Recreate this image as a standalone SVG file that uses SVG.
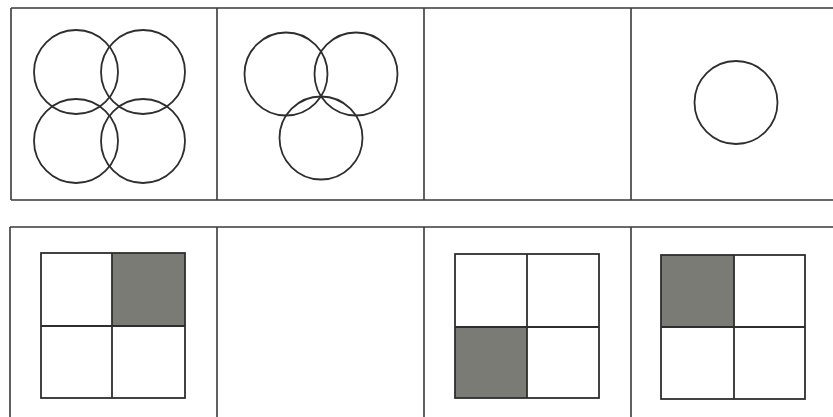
<svg xmlns="http://www.w3.org/2000/svg" width="833" height="417" viewBox="0 0 833 417">
<style>
.frame{fill:none;stroke:#3a3a3a;stroke-width:1.6}
.c{fill:none;stroke:#2e2e2e;stroke-width:1.8}
.g{fill:none;stroke:#2e2e2e;stroke-width:1.8}
.sh{fill:#7b7b75}
</style>
<rect width="833" height="417" fill="#ffffff"/>
<g id="frames">
<path class="frame" d="M11,8 H833 M11,200 H833 M11,8 V200 M217,8 V200 M424,8 V200 M631,8 V200"/>
<path class="frame" d="M10,227 H833 M10,227 V417 M217,227 V417 M424,227 V417 M631,227 V417"/>
</g>
<g id="p1">
<circle class="c" cx="76" cy="72" r="42"/>
<circle class="c" cx="143" cy="72" r="42"/>
<circle class="c" cx="76" cy="141" r="42"/>
<circle class="c" cx="143" cy="141" r="42"/>
</g>
<g id="p2">
<circle class="c" cx="286" cy="74" r="41.5"/>
<circle class="c" cx="356" cy="74" r="41.5"/>
<circle class="c" cx="321" cy="138" r="41.5"/>
</g>
<g id="p4">
<circle class="c" cx="736" cy="102.5" r="41.5"/>
</g>
<g id="q1">
<rect class="sh" x="112" y="253" width="73" height="73"/>
<rect class="g" x="41" y="253" width="144" height="145"/>
<path class="g" d="M112,253 V398 M41,326 H185"/>
</g>
<g id="q3">
<rect class="sh" x="455" y="327" width="72" height="71"/>
<rect class="g" x="455" y="254" width="144" height="144"/>
<path class="g" d="M527,254 V398 M455,327 H599"/>
</g>
<g id="q4">
<rect class="sh" x="661" y="255" width="73" height="72"/>
<rect class="g" x="661" y="255" width="144" height="144"/>
<path class="g" d="M734,255 V399 M661,327 H805"/>
</g>
</svg>
